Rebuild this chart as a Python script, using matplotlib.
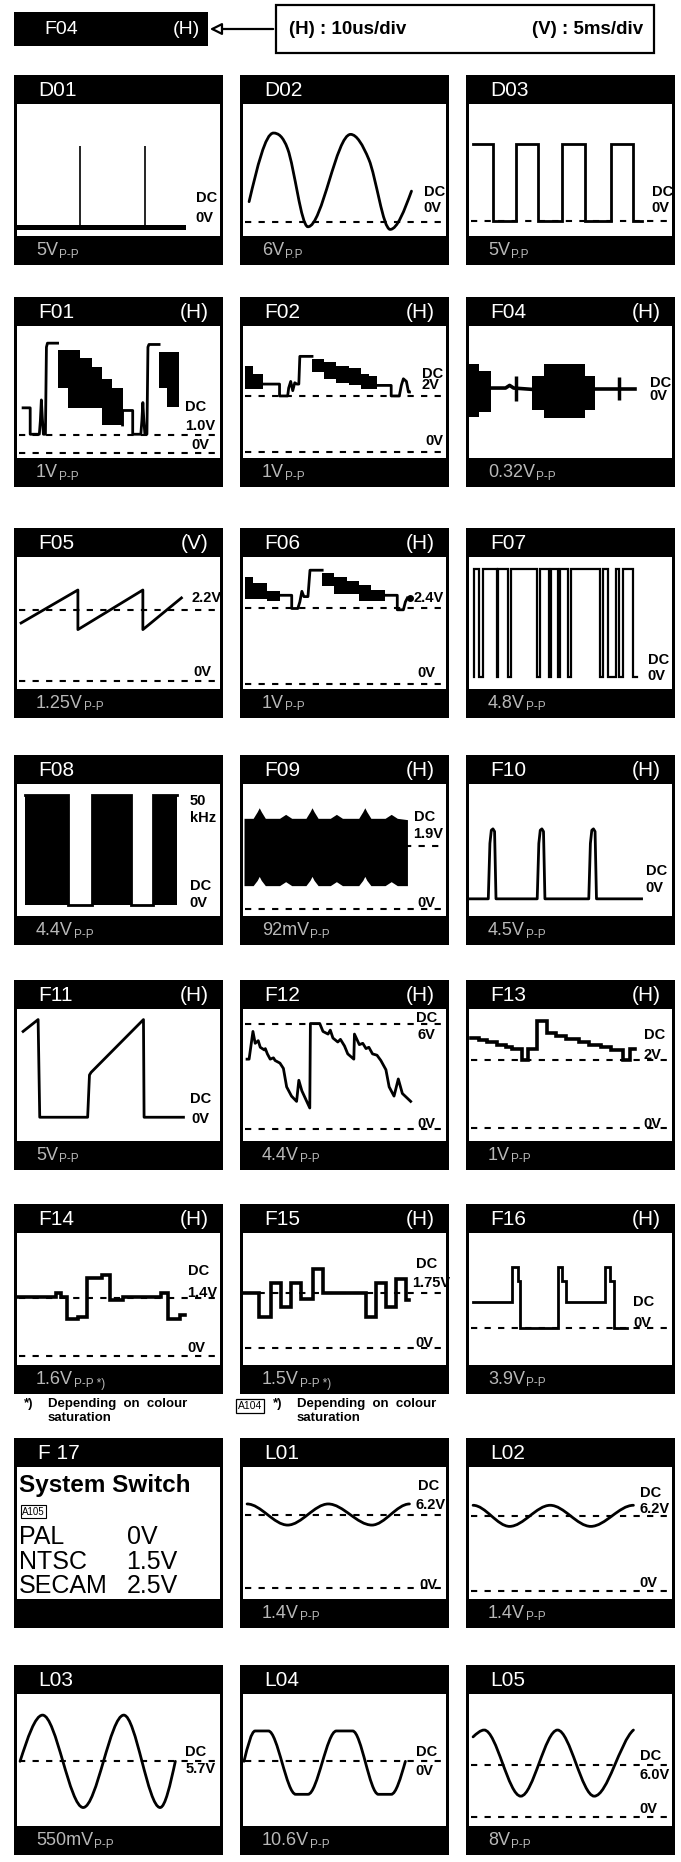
import matplotlib
matplotlib.use("Agg")
import matplotlib.pyplot as plt
from matplotlib.patches import Rectangle, PathPatch
from matplotlib.path import Path

plt.rcParams['font.family'] = ['Liberation Sans', 'DejaVu Sans']
NARROW = ['Liberation Sans Narrow', 'Liberation Sans', 'DejaVu Sans']

# ---------------- data ----------------
TITLES = ["D01", "D02", "D03", "F01", "F02", "F04", "F05", "F06", "F07",
          "F08", "F09", "F10", "F11", "F12", "F13", "F14", "F15", "F16",
          "F 17", "L01", "L02", "L03", "L04", "L05"]
MODES = ["", "", "", "(H)", "(H)", "(H)", "(V)", "(H)", "",
         "", "(H)", "(H)", "(H)", "(H)", "(H)", "(H)", "(H)", "(H)",
         "", "", "", "", "", ""]
AMPS = ["5V", "6V", "5V", "1V", "1V", "0.32V", "1.25V", "1V", "4.8V",
        "4.4V", "92mV", "4.5V", "5V", "4.4V", "1V", "1.6V", "1.5V", "3.9V",
        "", "1.4V", "1.4V", "550mV", "10.6V", "8V"]
SUBS = ["P-P", "P.P", "P.P", "P-P", "P-P", "P-P", "P-P", "P-P", "P-P",
        "P-P", "P-P", "P-P", "P-P", "P-P", "P-P", "P-P *)", "P-P *)", "P-P",
        "", "P-P", "P-P", "P-P", "P-P", "P-P"]

D01_BASE_X = [1, 82]
D01_BASE_Y = [7, 7]
D01_SPIKE_X = [31, 63]
D01_SPIKE_TOP = [68, 68]

D02_X = [3, 15, 22, 32, 53, 62, 72.5, 83]
D02_Y = [26, 78, 66, 7, 77, 58, 5, 34]

D03_EDGES = [2, 12, 23, 34, 46, 57, 70, 81, 85]
D03_LEVELS = [70, 11, 70, 11, 70, 11, 70, 11]

F01_LINE1_X = [3, 6.5, 6.5, 11, 11.5, 12, 12.5, 13, 14, 14.5, 15, 20]
F01_LINE1_Y = [38, 38, 18, 18, 28, 44, 30, 18, 18, 84, 87, 87]
F01_BLK1_X = [20, 25, 31, 37, 42, 47, 52]
F01_BLK1_TOP = [82, 82, 76, 69, 60, 53]
F01_BLK1_BOT = [53, 38, 38, 38, 25, 25]
F01_LINE2_X = [52, 52, 57, 57, 61, 61.5, 62, 62.5, 63, 64, 64.5, 65, 70]
F01_LINE2_Y = [25, 36, 36, 18, 18, 28, 42, 28, 18, 18, 84, 86, 86]
F01_BLK2_X = [70, 74, 80]
F01_BLK2_TOP = [80, 80]
F01_BLK2_BOT = [53, 39]

F02_BLK1_X = [1, 5, 10]
F02_BLK1_TOP = [70, 64]
F02_BLK1_BOT = [52, 52]
F02_LINE1_X = [10, 18, 18, 22, 22.5, 23.5, 24.5, 25.5, 26.5, 27.5, 28, 34]
F02_LINE1_Y = [56, 56, 47, 47, 53, 58, 51, 57, 56, 56, 77, 77]
F02_BLK2_X = [34, 40, 46, 52, 58, 62, 66]
F02_BLK2_TOP = [75, 73, 70, 68, 64, 62]
F02_BLK2_BOT = [65, 60, 57, 55, 52, 52]
F02_LINE2_X = [66, 73, 73, 77, 78, 79, 80.5, 81.5, 82]
F02_LINE2_Y = [55, 55, 47, 47, 55, 60, 58, 50, 50]

F04_BLK1_X = [0, 5, 11]
F04_BLK1_TOP = [71, 66]
F04_BLK1_BOT = [31, 35]
F04_LINE1_X = [11, 18, 20, 22, 31]
F04_LINE1_Y = [53, 53, 55, 53, 52]
F04_BLK2_X = [31, 37, 57, 62]
F04_BLK2_TOP = [62, 71, 62]
F04_BLK2_BOT = [36, 30, 36]
F04_LINE2_X = [62, 82]
F04_LINE2_Y = [52, 52]
F04_TICK_X = [23, 74]
F04_TICK_LO = [43, 44]
F04_TICK_HI = [62, 61]

F05_X = [2, 30, 30, 62, 62, 81]
F05_Y = [50, 75, 45, 75, 45, 69]

F06_BLK1_X = [1, 5, 12, 18]
F06_BLK1_TOP = [85, 80, 74]
F06_BLK1_BOT = [68, 68, 67]
F06_LINE1_X = [18, 24, 24, 27, 28, 29, 30, 32, 33, 39]
F06_LINE1_Y = [71, 71, 61, 61, 66, 74, 70, 70, 90, 90]
F06_BLK2_X = [39, 45, 51, 57, 63, 70]
F06_BLK2_TOP = [88, 85, 82, 79, 75]
F06_BLK2_BOT = [78, 72, 72, 67, 67]
F06_LINE2_X = [70, 76, 76, 79, 80, 81]
F06_LINE2_Y = [71, 71, 60, 60, 66, 69]

F07_EDGES = [2.5, 2.5, 5, 7, 13.7, 14.5, 19, 20.5, 33.3, 35, 39.3, 40.2, 43.6,
             45, 48.7, 50.4, 64.5, 66, 68.4, 72.6, 74, 76, 81, 83]
F07_LEVELS = [9, 91, 9, 91, 9, 91, 9, 91, 9, 91, 9, 91, 9,
              91, 9, 91, 9, 91, 9, 91, 9, 91, 9]

F08_EDGES = [4, 25, 37, 56, 67, 79]
F08_LEVELS = [92, 8, 92, 8, 92]

F09_X = [0.5, 5, 7, 8, 9, 11, 18, 21, 24, 31, 33, 34, 35, 37, 43, 46, 49,
         57, 59, 60, 61, 63, 70, 73, 76, 81]
F09_TOP = [74, 74, 79, 82, 79, 74, 74, 77, 74, 74, 79, 82, 79, 74, 74, 77, 74,
           74, 79, 82, 79, 74, 74, 77, 74, 73]
F09_BOT = [23, 23, 27, 30, 27, 23, 23, 26, 23, 23, 27, 30, 27, 23, 23, 26, 23,
           23, 27, 30, 27, 23, 23, 26, 23, 23]

F10_X = [0, 9.5, 10.3, 11, 11.8, 12.6, 13.3, 33.6, 34.4, 35.1, 35.9, 36.7, 37.4,
         59, 59.8, 60.5, 61.3, 62.1, 62.8, 85]
F10_Y = [13, 13, 55, 65, 66, 64, 13, 13, 55, 65, 66, 64, 13,
         13, 55, 65, 66, 64, 13, 13]

F11_X = [3, 10.4, 11.2, 11.8, 34.8, 35.7, 36.5, 62.3, 62.6, 82]
F11_Y = [83, 92, 18, 18, 18, 50, 52, 92, 18, 18]

F12_X = [2, 3, 4.9, 6, 7.5, 8.5, 10.5, 11, 12, 13.4, 15, 15.8, 18.2, 19.9, 21.5,
         23.9, 26.4, 27.5, 29, 32.9, 33.2, 37.8, 39.4, 41.9, 43, 44.3, 46.7, 48,
         50, 51.6, 54.6, 54.9, 57.3, 59, 60.6, 62, 63.8, 66, 67.9, 70.4, 72,
         74.4, 76.5, 78.5, 82.6]
F12_Y = [62, 62, 83, 74, 76, 71, 69, 70, 66, 62, 63, 61, 59, 55, 41,
         34, 30, 46, 38, 25, 89, 89, 83, 81, 84, 78, 75, 77,
         72, 66, 62, 81, 73, 74, 70, 71, 66, 65, 61, 54, 41,
         34, 47, 36, 30]

F13_EDGES = [1, 5, 9, 14, 18, 21, 26, 29, 33.5, 38.5, 43, 48, 54, 59, 65, 70, 76, 79.5, 82]
F13_LEVELS = [78, 76.5, 75, 73, 71, 70, 61, 70, 91, 82, 79.5, 77, 75, 73, 71, 69, 61, 70]

F14_EDGES = [0, 19, 21.5, 24.5, 30, 34.5, 42, 46, 52, 71, 74.5, 80.5, 83]
F14_LEVELS = [51.4, 54.5, 51.4, 35, 36.5, 66, 68, 49, 51.4, 54.5, 35, 37.7]

F15_EDGES = [0, 7.9, 13.8, 18.8, 23.8, 28.8, 34.7, 39.4, 60.7, 65.7, 70.5, 75.4, 80.2, 81.6]
F15_LEVELS = [54.5, 36, 62, 44, 62, 50, 73, 54.5, 36, 62, 44, 65, 49]

F16_EDGES = [2, 21, 24, 25, 44, 46, 48, 67, 69.5, 71.5, 78]
F16_LEVELS = [48, 74, 64, 28, 74, 64, 48, 74, 64, 28]

SYSTEMS = ["PAL", "NTSC", "SECAM"]
SYSTEM_VOLTS = ["0V", "1.5V", "2.5V"]

L01_X = [2, 22, 42, 63.5, 82]
L01_Y = [72, 56, 72, 56, 72]
L02_X = [2, 20, 40, 60, 81]
L02_Y = [71, 55, 71, 55, 71]
L03_X = [1.5, 12.6, 32.6, 52.6, 70.5, 78]
L03_Y = [49, 84, 14, 84, 14, 49]
L04_X = [0.5, 6, 12.5, 26, 32, 46, 54, 66.7, 73, 80]
L04_Y = [49, 72, 72, 24, 24, 72, 72, 24, 24, 49]
L05_X = [2, 7.5, 25.5, 43.6, 61.7, 81]
L05_Y = [67.5, 72.7, 22.6, 72.7, 22.6, 72.7]

# ---------------- layout ----------------
W, H = 681, 1862
fig = plt.figure(figsize=(W / 100, H / 100), dpi=100)
bg = fig.add_axes([0, 0, 1, 1])
bg.set_xlim(0, W)
bg.set_ylim(H, 0)
bg.axis('off')

COL_X = [14, 240, 466]
ROW_Y = [75, 297, 528, 755, 980, 1204, 1438, 1665]
PW, PH = 209, 190
TB, BB, SIDE = 29, 29, 3
LW = 2.0
AMP_COLOR = '#b8b8b8'
amp_texts = []


def make_panel(i):
    r, c = divmod(i, 3)
    x0, y0 = COL_X[c], ROW_Y[r]
    bg.add_patch(Rectangle((x0, y0), PW, PH, color='black', lw=0))
    bg.text(x0 + 24, y0 + TB / 2 + 1, TITLES[i], color='white', fontsize=15,
            va='center', ha='left')
    if MODES[i]:
        bg.text(x0 + PW - 14, y0 + TB / 2 + 1, MODES[i], color='white',
                fontsize=15, va='center', ha='right')
    if AMPS[i]:
        t = bg.text(x0 + 22, y0 + PH - BB / 2, AMPS[i], color=AMP_COLOR,
                    fontsize=13, va='center', ha='left')
        amp_texts.append((t, SUBS[i], y0 + PH - BB / 2))
    ax = fig.add_axes([(x0 + SIDE) / W, 1 - (y0 + PH - BB) / H,
                       (PW - 2 * SIDE) / W, (PH - TB - BB) / H])
    ax.set_facecolor('white')
    ax.set_xlim(0, 100)
    ax.set_ylim(0, 100)
    ax.set_xticks([])
    ax.set_yticks([])
    for s in ax.spines.values():
        s.set_visible(False)
    return ax


def lab(ax, txt, x, y):
    ax.text(x, y, txt, fontsize=10.5, fontweight='bold', family=NARROW,
            ha='left', va='center', color='black')


def dash(ax, y, x0=1, x1=98):
    ax.plot([x0, x1], [y, y], color='black', lw=1.5, ls=(0, (3, 3.5)))


def steps(ax, edges, levels, lw=LW):
    ax.plot(edges, list(levels) + [levels[-1]], drawstyle='steps-post',
            color='black', lw=lw, solid_joinstyle='miter')


def block(ax, edges, bot, top):
    ax.fill_between(edges, list(bot) + [bot[-1]], list(top) + [top[-1]],
                    step='post', color='black', lw=0)


def line(ax, xs, ys, lw=LW):
    ax.plot(xs, ys, color='black', lw=lw, solid_joinstyle='round')


def smooth(ax, xs, ys, end_k=(1.5, 1.5), lw=LW):
    n = len(xs)
    m = []
    for i in range(n):
        if i == 0:
            m.append(end_k[0] * (ys[1] - ys[0]) / (xs[1] - xs[0]))
        elif i == n - 1:
            m.append(end_k[1] * (ys[-1] - ys[-2]) / (xs[-1] - xs[-2]))
        else:
            a = ys[i] - ys[i - 1]
            b = ys[i + 1] - ys[i]
            if a * b <= 0:
                m.append(0.0)
            else:
                m.append((ys[i + 1] - ys[i - 1]) / (xs[i + 1] - xs[i - 1]))
    verts = [(xs[0], ys[0])]
    codes = [Path.MOVETO]
    for i in range(n - 1):
        d = (xs[i + 1] - xs[i]) / 3
        verts += [(xs[i] + d, ys[i] + m[i] * d),
                  (xs[i + 1] - d, ys[i + 1] - m[i + 1] * d),
                  (xs[i + 1], ys[i + 1])]
        codes += [Path.CURVE4] * 3
    ax.add_patch(PathPatch(Path(verts, codes), fill=False, lw=lw, ec='black',
                           capstyle='round'))


# ---------------- header ----------------
bg.add_patch(Rectangle((14, 12), 194, 34, color='black', lw=0))
bg.text(44, 30, 'F04', color='white', fontsize=14, va='center')
bg.text(200, 30, '(H)', color='white', fontsize=14, va='center', ha='right')
bg.annotate('', xy=(207, 29), xytext=(276, 29),
            arrowprops=dict(arrowstyle='-|>,head_length=0.7,head_width=0.35',
                            fc='white', ec='black', lw=1.6))
bg.add_patch(Rectangle((276, 5), 378, 48, fill=False, ec='black', lw=1.6))
bg.text(289, 30, '(H) : 10us/div', fontsize=13.5, fontweight='bold',
        family=NARROW, va='center')
bg.text(643, 30, '(V) : 5ms/div', fontsize=13.5, fontweight='bold',
        family=NARROW, va='center', ha='right')

axs = [make_panel(i) for i in range(24)]

# D01
ax = axs[0]
line(ax, D01_BASE_X, D01_BASE_Y, lw=3.6)
ax.vlines(D01_SPIKE_X, D01_BASE_Y[0], D01_SPIKE_TOP, color='black', lw=1.2)
lab(ax, 'DC', 88, 29); lab(ax, '0V', 88, 14)
# D02
ax = axs[1]
dash(ax, 10.5)
smooth(ax, D02_X, D02_Y)
lab(ax, 'DC', 89, 33); lab(ax, '0V', 89, 21)
# D03
ax = axs[2]
dash(ax, 11)
steps(ax, D03_EDGES, D03_LEVELS)
lab(ax, 'DC', 90, 33); lab(ax, '0V', 90, 21)
# F01
ax = axs[3]
dash(ax, 17.7); dash(ax, 4)
line(ax, F01_LINE1_X, F01_LINE1_Y)
block(ax, F01_BLK1_X, F01_BLK1_BOT, F01_BLK1_TOP)
line(ax, F01_LINE2_X, F01_LINE2_Y)
block(ax, F01_BLK2_X, F01_BLK2_BOT, F01_BLK2_TOP)
lab(ax, 'DC', 83, 39); lab(ax, '1.0V', 83, 24); lab(ax, '0V', 86, 10)
# F02
ax = axs[4]
dash(ax, 47); dash(ax, 4.7)
block(ax, F02_BLK1_X, F02_BLK1_BOT, F02_BLK1_TOP)
line(ax, F02_LINE1_X, F02_LINE1_Y)
block(ax, F02_BLK2_X, F02_BLK2_BOT, F02_BLK2_TOP)
line(ax, F02_LINE2_X, F02_LINE2_Y)
lab(ax, 'DC', 88, 64); lab(ax, '2V', 88, 55); lab(ax, '0V', 90, 13)
# F04
ax = axs[5]
block(ax, F04_BLK1_X, F04_BLK1_BOT, F04_BLK1_TOP)
line(ax, F04_LINE1_X, F04_LINE1_Y, lw=2.6)
block(ax, F04_BLK2_X, F04_BLK2_BOT, F04_BLK2_TOP)
line(ax, F04_LINE2_X, F04_LINE2_Y, lw=2.6)
ax.vlines(F04_TICK_X, F04_TICK_LO, F04_TICK_HI, color='black', lw=2.5)
lab(ax, 'DC', 89, 57); lab(ax, '0V', 89, 47)
# F05
ax = axs[6]
dash(ax, 60); dash(ax, 6)
line(ax, F05_X, F05_Y)
lab(ax, '2.2V', 86, 69); lab(ax, '0V', 87, 13)
# F06
ax = axs[7]
dash(ax, 61); dash(ax, 4)
block(ax, F06_BLK1_X, F06_BLK1_BOT, F06_BLK1_TOP)
line(ax, F06_LINE1_X, F06_LINE1_Y)
block(ax, F06_BLK2_X, F06_BLK2_BOT, F06_BLK2_TOP)
line(ax, F06_LINE2_X, F06_LINE2_Y)
ax.plot([82.5], [69], 'o', color='black', ms=4)
lab(ax, '2.4V', 84, 69); lab(ax, '0V', 86, 12)
# F07
ax = axs[8]
steps(ax, F07_EDGES, F07_LEVELS, lw=1.6)
lab(ax, 'DC', 88, 22); lab(ax, '0V', 88, 10)
# F08
ax = axs[9]
ax.fill_between(F08_EDGES, 8, F08_LEVELS + [F08_LEVELS[-1]], step='post',
                color='black', lw=0)
steps(ax, F08_EDGES, F08_LEVELS)
lab(ax, '50', 85, 87); lab(ax, 'kHz', 85, 74); lab(ax, 'DC', 85, 23); lab(ax, '0V', 85, 10)
# F09
ax = axs[10]
dash(ax, 53, 80, 98); dash(ax, 5)
ax.fill_between(F09_X, F09_BOT, F09_TOP, color='black', lw=0)
lab(ax, 'DC', 84, 75); lab(ax, '1.9V', 84, 62); lab(ax, '0V', 86, 10)
# F10
ax = axs[11]
line(ax, F10_X, F10_Y)
lab(ax, 'DC', 87, 34); lab(ax, '0V', 87, 21)
# F11
ax = axs[12]
line(ax, F11_X, F11_Y)
lab(ax, 'DC', 85, 31.5); lab(ax, '0V', 86, 17)
# F12
ax = axs[13]
dash(ax, 88.7); dash(ax, 9.2)
line(ax, F12_X, F12_Y)
lab(ax, 'DC', 85, 93); lab(ax, '6V', 86, 80); lab(ax, '0V', 86, 13)
# F13
ax = axs[14]
dash(ax, 61); dash(ax, 10)
steps(ax, F13_EDGES, F13_LEVELS, lw=2.6)
lab(ax, 'DC', 86, 80); lab(ax, '2V', 86, 65); lab(ax, '0V', 86, 13)
# F14
ax = axs[15]
dash(ax, 50.6); dash(ax, 7)
steps(ax, F14_EDGES, F14_LEVELS, lw=2.6)
lab(ax, 'DC', 84, 71); lab(ax, '1.4V', 84, 54.5); lab(ax, '0V', 84, 13)
# F15
ax = axs[16]
dash(ax, 54.5); dash(ax, 13)
steps(ax, F15_EDGES, F15_LEVELS, lw=2.6)
lab(ax, 'DC', 85, 76.6); lab(ax, '1.75V', 83.5, 62); lab(ax, '0V', 85, 17)
# F16
ax = axs[17]
dash(ax, 28)
steps(ax, F16_EDGES, F16_LEVELS)
lab(ax, 'DC', 81, 48); lab(ax, '0V', 81, 32)
# F17
ax = axs[18]
ax.text(1, 86, 'System Switch', fontsize=17.5, fontweight='bold', va='center', ha='left')
ax.text(2.5, 66, 'A105', fontsize=7, va='center', ha='left',
        bbox=dict(boxstyle='square,pad=0.15', fc='white', ec='black', lw=0.8))
for k, (sname, sv) in enumerate(zip(SYSTEMS, SYSTEM_VOLTS)):
    yy = [47, 28, 10][k]
    ax.text(1, yy, sname, fontsize=18, va='center', ha='left')
    ax.text(54, yy, sv, fontsize=18, va='center', ha='left')
# L01
ax = axs[19]
dash(ax, 64); dash(ax, 8.7)
smooth(ax, L01_X, L01_Y, end_k=(0, 0))
lab(ax, 'DC', 86, 85.5); lab(ax, '6.2V', 85, 71); lab(ax, '0V', 87, 10.5)
# L02
ax = axs[20]
dash(ax, 63); dash(ax, 6)
smooth(ax, L02_X, L02_Y, end_k=(0, 0))
lab(ax, 'DC', 84, 80); lab(ax, '6.2V', 84, 68); lab(ax, '0V', 84, 12)
# L03
ax = axs[21]
dash(ax, 49)
smooth(ax, L03_X, L03_Y)
lab(ax, 'DC', 83, 56); lab(ax, '5.7V', 83, 43)
# L04
ax = axs[22]
dash(ax, 49)
smooth(ax, L04_X, L04_Y)
lab(ax, 'DC', 85, 56); lab(ax, '0V', 85, 42)
# L05
ax = axs[23]
dash(ax, 46); dash(ax, 6.5)
smooth(ax, L05_X, L05_Y, end_k=(1.5, 0.5))
lab(ax, 'DC', 84, 53); lab(ax, '6.0V', 84, 39); lab(ax, '0V', 84, 13)

# ---------------- footnotes ----------------
for fx in (24, 273):
    bg.text(fx, 1404, '*)', fontsize=9.5, fontweight='bold', va='center')
    bg.text(fx + 24, 1404, 'Depending  on  colour', fontsize=9.5, fontweight='bold', va='center')
    bg.text(fx + 24, 1418, 'saturation', fontsize=9.5, fontweight='bold', va='center')
bg.text(238, 1406, 'A104', fontsize=7.5, va='center', ha='left',
        bbox=dict(boxstyle='square,pad=0.2', fc='white', ec='black', lw=0.9))

# ---------------- subscripts of amplitude labels ----------------
fig.canvas.draw()
renderer = fig.canvas.get_renderer()
inv = bg.transData.inverted()
for t, sub, yc in amp_texts:
    bb = t.get_window_extent(renderer)
    xr, _ = inv.transform((bb.x1, bb.y0))
    bg.text(xr + 1, yc + 4, sub, color=AMP_COLOR, fontsize=8.5, va='center', ha='left')

fig.savefig('out.png', dpi=100, facecolor='white')
